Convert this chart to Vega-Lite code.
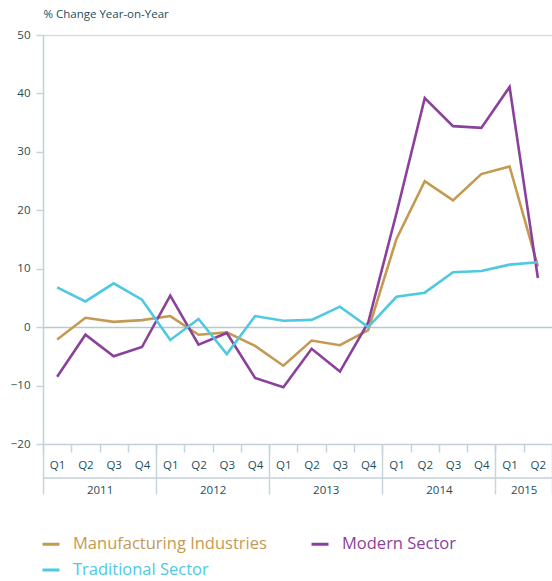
{
  "$schema": "https://vega.github.io/schema/vega-lite/v6.json",
  "autosize": {"type": "none"},
  "width": 509,
  "height": 409,
  "padding": {"left": 43, "top": 35, "right": 0, "bottom": 137},
  "background": "white",
  "config": {
    "view": {"stroke": null},
    "font": "Open Sans",
    "axis": {"labelFont": "Open Sans", "titleFont": "Open Sans", "labelColor": "#1D4E5B", "titleColor": "#1D4E5B"}
  },
  "data": {
    "values": [
      {"year": 2011, "quarter": "Q1", "t": 2011.125, "series": "Manufacturing Industries", "value": -2.1},
      {"year": 2011, "quarter": "Q2", "t": 2011.375, "series": "Manufacturing Industries", "value": 1.6},
      {"year": 2011, "quarter": "Q3", "t": 2011.625, "series": "Manufacturing Industries", "value": 0.9},
      {"year": 2011, "quarter": "Q4", "t": 2011.875, "series": "Manufacturing Industries", "value": 1.2},
      {"year": 2012, "quarter": "Q1", "t": 2012.125, "series": "Manufacturing Industries", "value": 1.9},
      {"year": 2012, "quarter": "Q2", "t": 2012.375, "series": "Manufacturing Industries", "value": -1.3},
      {"year": 2012, "quarter": "Q3", "t": 2012.625, "series": "Manufacturing Industries", "value": -0.9},
      {"year": 2012, "quarter": "Q4", "t": 2012.875, "series": "Manufacturing Industries", "value": -3.2},
      {"year": 2013, "quarter": "Q1", "t": 2013.125, "series": "Manufacturing Industries", "value": -6.6},
      {"year": 2013, "quarter": "Q2", "t": 2013.375, "series": "Manufacturing Industries", "value": -2.3},
      {"year": 2013, "quarter": "Q3", "t": 2013.625, "series": "Manufacturing Industries", "value": -3.1},
      {"year": 2013, "quarter": "Q4", "t": 2013.875, "series": "Manufacturing Industries", "value": -0.5},
      {"year": 2014, "quarter": "Q1", "t": 2014.125, "series": "Manufacturing Industries", "value": 15.1},
      {"year": 2014, "quarter": "Q2", "t": 2014.375, "series": "Manufacturing Industries", "value": 25.0},
      {"year": 2014, "quarter": "Q3", "t": 2014.625, "series": "Manufacturing Industries", "value": 21.7},
      {"year": 2014, "quarter": "Q4", "t": 2014.875, "series": "Manufacturing Industries", "value": 26.2},
      {"year": 2015, "quarter": "Q1", "t": 2015.125, "series": "Manufacturing Industries", "value": 27.5},
      {"year": 2015, "quarter": "Q2", "t": 2015.375, "series": "Manufacturing Industries", "value": 10.4},
      {"year": 2011, "quarter": "Q1", "t": 2011.125, "series": "Modern Sector", "value": -8.5},
      {"year": 2011, "quarter": "Q2", "t": 2011.375, "series": "Modern Sector", "value": -1.3},
      {"year": 2011, "quarter": "Q3", "t": 2011.625, "series": "Modern Sector", "value": -5.0},
      {"year": 2011, "quarter": "Q4", "t": 2011.875, "series": "Modern Sector", "value": -3.4},
      {"year": 2012, "quarter": "Q1", "t": 2012.125, "series": "Modern Sector", "value": 5.4},
      {"year": 2012, "quarter": "Q2", "t": 2012.375, "series": "Modern Sector", "value": -3.0},
      {"year": 2012, "quarter": "Q3", "t": 2012.625, "series": "Modern Sector", "value": -1.0},
      {"year": 2012, "quarter": "Q4", "t": 2012.875, "series": "Modern Sector", "value": -8.7},
      {"year": 2013, "quarter": "Q1", "t": 2013.125, "series": "Modern Sector", "value": -10.3},
      {"year": 2013, "quarter": "Q2", "t": 2013.375, "series": "Modern Sector", "value": -3.7},
      {"year": 2013, "quarter": "Q3", "t": 2013.625, "series": "Modern Sector", "value": -7.6},
      {"year": 2013, "quarter": "Q4", "t": 2013.875, "series": "Modern Sector", "value": 0.8},
      {"year": 2014, "quarter": "Q1", "t": 2014.125, "series": "Modern Sector", "value": 19.5},
      {"year": 2014, "quarter": "Q2", "t": 2014.375, "series": "Modern Sector", "value": 39.2},
      {"year": 2014, "quarter": "Q3", "t": 2014.625, "series": "Modern Sector", "value": 34.4},
      {"year": 2014, "quarter": "Q4", "t": 2014.875, "series": "Modern Sector", "value": 34.1},
      {"year": 2015, "quarter": "Q1", "t": 2015.125, "series": "Modern Sector", "value": 41.1},
      {"year": 2015, "quarter": "Q2", "t": 2015.375, "series": "Modern Sector", "value": 8.4},
      {"year": 2011, "quarter": "Q1", "t": 2011.125, "series": "Traditional Sector", "value": 6.8},
      {"year": 2011, "quarter": "Q2", "t": 2011.375, "series": "Traditional Sector", "value": 4.4},
      {"year": 2011, "quarter": "Q3", "t": 2011.625, "series": "Traditional Sector", "value": 7.5},
      {"year": 2011, "quarter": "Q4", "t": 2011.875, "series": "Traditional Sector", "value": 4.7},
      {"year": 2012, "quarter": "Q1", "t": 2012.125, "series": "Traditional Sector", "value": -2.2},
      {"year": 2012, "quarter": "Q2", "t": 2012.375, "series": "Traditional Sector", "value": 1.4},
      {"year": 2012, "quarter": "Q3", "t": 2012.625, "series": "Traditional Sector", "value": -4.6},
      {"year": 2012, "quarter": "Q4", "t": 2012.875, "series": "Traditional Sector", "value": 1.9},
      {"year": 2013, "quarter": "Q1", "t": 2013.125, "series": "Traditional Sector", "value": 1.1},
      {"year": 2013, "quarter": "Q2", "t": 2013.375, "series": "Traditional Sector", "value": 1.25},
      {"year": 2013, "quarter": "Q3", "t": 2013.625, "series": "Traditional Sector", "value": 3.5},
      {"year": 2013, "quarter": "Q4", "t": 2013.875, "series": "Traditional Sector", "value": 0.0},
      {"year": 2014, "quarter": "Q1", "t": 2014.125, "series": "Traditional Sector", "value": 5.2},
      {"year": 2014, "quarter": "Q2", "t": 2014.375, "series": "Traditional Sector", "value": 5.9},
      {"year": 2014, "quarter": "Q3", "t": 2014.625, "series": "Traditional Sector", "value": 9.4},
      {"year": 2014, "quarter": "Q4", "t": 2014.875, "series": "Traditional Sector", "value": 9.6},
      {"year": 2015, "quarter": "Q1", "t": 2015.125, "series": "Traditional Sector", "value": 10.7},
      {"year": 2015, "quarter": "Q2", "t": 2015.375, "series": "Traditional Sector", "value": 11.1}
    ]
  },
  "encoding": {
    "y": {
      "field": "value",
      "type": "quantitative",
      "scale": {"domain": [-20, 50], "nice": false, "zero": false},
      "axis": {
        "title": "% Change Year-on-Year",
        "titleAngle": 0,
        "titleX": 0,
        "titleY": -18,
        "titleAlign": "left",
        "titleBaseline": "alphabetic",
        "titleFontSize": 11.5,
        "titleFontWeight": "normal",
        "values": [-20, -10, 0, 10, 20, 30, 40, 50],
        "labelFontSize": 11.5,
        "labelPadding": 6,
        "tickSize": 7,
        "tickColor": "#C5D5DA",
        "tickWidth": 1.5,
        "domainColor": "#C0D1D7",
        "domainWidth": 1.5,
        "grid": true,
        "gridOpacity": {"condition": {"test": "datum.value === 0 || datum.value === 50", "value": 1}, "value": 0},
        "gridColor": {"condition": {"test": "datum.value === 50", "value": "#D5DFE2"}, "value": "#B5C9CF"},
        "gridWidth": 1.5
      }
    }
  },
  "layer": [
    {
      "mark": {"type": "line", "strokeWidth": 2.6, "strokeJoin": "miter", "clip": false},
      "encoding": {
        "x": {
          "field": "t",
          "type": "quantitative",
          "scale": {"domain": [2011, 2015.5], "nice": false, "zero": false},
          "axis": {
            "orient": "bottom",
            "title": null,
            "values": [2011.125, 2011.375, 2011.625, 2011.875, 2012.125, 2012.375, 2012.625, 2012.875, 2013.125, 2013.375, 2013.625, 2013.875, 2014.125, 2014.375, 2014.625, 2014.875, 2015.125, 2015.375],
            "labelExpr": "'Q' + (floor((datum.value - floor(datum.value)) * 4) + 1)",
            "labelFontSize": 11.5,
            "labelPadding": 7,
            "labelOffset": 14.14,
            "tickOffset": -14.14,
            "tickSize": 8,
            "tickColor": "#C5D5DA",
            "tickWidth": 1.5,
            "domainColor": "#C0D1D7",
            "domainWidth": 1.5,
            "grid": false,
            "labelFlush": false,
            "labelOverlap": false
          }
        },
        "color": {
          "field": "series",
          "type": "nominal",
          "scale": {"domain": ["Manufacturing Industries", "Modern Sector", "Traditional Sector"], "range": ["#C49A52", "#8B419C", "#4FC8E1"]},
          "legend": {
            "title": null,
            "orient": "none",
            "legendX": -2,
            "legendY": 499,
            "direction": "horizontal",
            "columns": 2,
            "padding": 0,
            "symbolType": "stroke",
            "symbolSize": 289,
            "symbolStrokeWidth": 3,
            "labelFont": "Open Sans",
            "labelFontSize": 16.5,
            "labelOffset": 12,
            "labelLimit": 400,
            "columnPadding": 38,
            "rowPadding": 7,
            "encode": {"labels": {"update": {"fill": {"scale": "color", "field": "value"}}}}
          }
        }
      }
    },
    {
      "mark": {"type": "point", "opacity": 0},
      "encoding": {
        "x": {
          "field": "t",
          "type": "quantitative",
          "axis": {
            "orient": "bottom",
            "title": null,
            "values": [2011, 2012, 2013, 2014, 2015, 2015.5],
            "labels": false,
            "domain": false,
            "grid": false,
            "tickSize": 50,
            "tickColor": "#C5D5DA",
            "tickWidth": 1.5
          }
        }
      }
    },
    {
      "mark": {"type": "point", "opacity": 0},
      "encoding": {
        "x": {
          "field": "t",
          "type": "quantitative",
          "axis": {
            "orient": "bottom",
            "title": null,
            "offset": 33.5,
            "values": [2011.5, 2012.5, 2013.5, 2014.5, 2015.25],
            "labelExpr": "'' + floor(datum.value)",
            "labelFontSize": 11.5,
            "labelPadding": 7,
            "ticks": false,
            "tickSize": 0,
            "grid": false,
            "domainColor": "#C0D1D7",
            "domainWidth": 1.5,
            "labelFlush": false,
            "labelOverlap": false
          }
        }
      }
    }
  ],
  "resolve": {"axis": {"x": "independent"}}
}
